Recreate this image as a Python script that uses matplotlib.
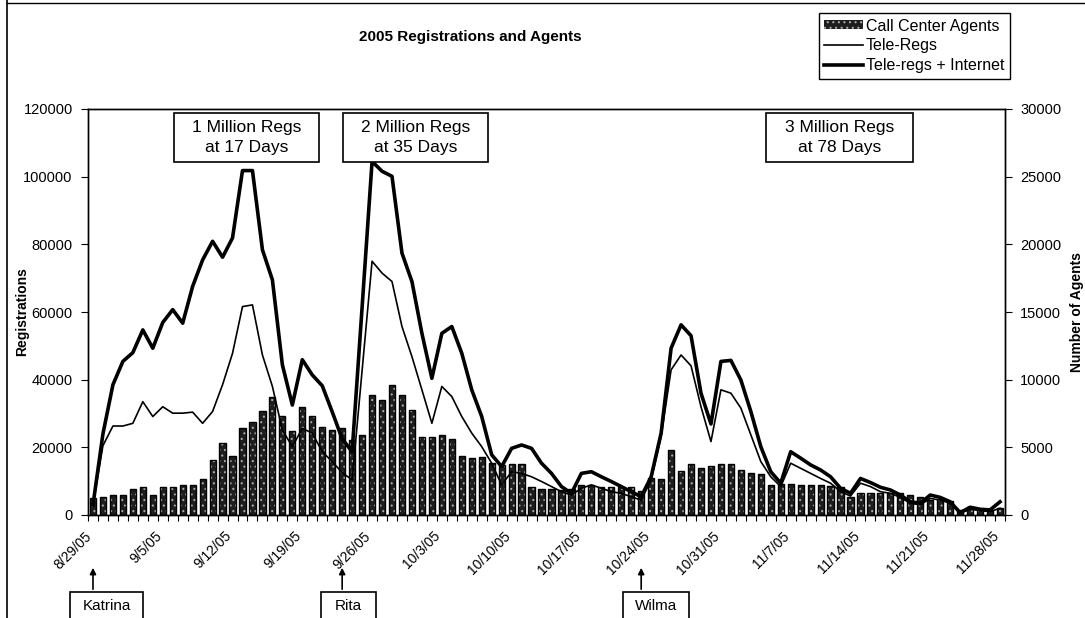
import numpy as np
import pandas as pd
import matplotlib
matplotlib.use("Agg")
import matplotlib.pyplot as plt
from matplotlib.patches import Rectangle, FancyArrowPatch
from matplotlib.lines import Line2D
import matplotlib.transforms as mtransforms

plt.rcParams['font.family'] = ['Liberation Sans', 'DejaVu Sans']
plt.rcParams['hatch.linewidth'] = 0.8

# daily categories 8/29/05 .. 11/28/05
dates = pd.date_range('2005-08-29', '2005-11-28', freq='D')
tick_labels = ['8/29/05', '9/5/05', '9/12/05', '9/19/05', '9/26/05', '10/3/05', '10/10/05',
               '10/17/05', '10/24/05', '10/31/05', '11/7/05', '11/14/05', '11/21/05', '11/28/05']

agents = [1230, 1300, 1500, 1500, 1900, 2050, 1500, 2050, 2050, 2200,
          2250, 2650, 4050, 5300, 4350, 6400, 6900, 7700, 8700, 7300,
          6200, 8000, 7300, 6500, 6300, 6400, 5550, 5900, 8900, 8500,
          9600, 8850, 7750, 5800, 5800, 5900, 5650, 4350, 4200, 4300,
          3850, 3700, 3750, 3750, 2100, 1950, 1950, 1850, 1950, 2200,
          2200, 2050, 2100, 2100, 2050, 1750, 2750, 2650, 4800, 3250,
          3750, 3450, 3650, 3750, 3800, 3300, 3100, 3050, 2200, 2300,
          2300, 2200, 2200, 2200, 2150, 2100, 1350, 1650, 1650, 1650,
          1650, 1650, 1450, 1350, 1100, 1200, 1000, 400, 600, 450,
          350, 500]

tele_regs = [3000, 20500, 26300, 26300, 27100, 33500, 29100, 32000, 30100, 30100,
             30400, 27100, 30600, 38500, 47800, 61600, 62100, 47300, 38000, 25100,
             20200, 25600, 24200, 18700, 15800, 12500, 10400, 42700, 75000, 71500,
             69000, 55700, 46800, 37000, 27100, 38000, 35000, 29100, 24200, 20200,
             15300, 8900, 12800, 12300, 11300, 9900, 8400, 6900, 5900, 7900,
             8900, 7900, 6900, 6400, 5400, 4400, 10400, 23200, 42900, 47300,
             44100, 32000, 21700, 37000, 36000, 31600, 23700, 15800, 11300, 8400,
             15300, 13800, 12300, 10800, 9400, 6900, 5600, 9400, 8400, 6900,
             6400, 5200, 3500, 3000, 4900, 4400, 3500, 500, 1700, 1300,
             1000, 2000]

tele_internet = [3000, 24000, 38500, 45400, 48000, 54700, 49300, 56900, 60700, 56700,
                 67600, 75400, 80900, 76200, 81900, 101800, 101800, 78400, 69500, 44400,
                 32500, 45900, 41400, 38200, 30500, 22500, 18700, 61400, 104500, 101600,
                 100100, 77400, 69000, 53700, 40400, 53700, 55700, 47800, 37000, 29100,
                 17800, 14300, 19700, 20700, 19700, 15300, 12300, 8400, 6400, 12300,
                 12800, 11300, 9900, 8400, 6900, 5400, 11300, 24200, 49300, 56200,
                 53000, 36000, 26900, 45400, 45700, 39900, 30600, 20200, 12800, 9400,
                 18700, 16800, 14800, 13300, 11300, 7900, 6400, 10800, 9600, 8200,
                 7400, 5900, 3900, 3500, 5900, 5200, 3900, 700, 2300, 1700,
                 1500, 3900]

milestones = ['1 Million Regs\nat 17 Days', '2 Million Regs\nat 35 Days', '3 Million Regs\nat 78 Days']
hurricanes = ['Katrina', 'Rita', 'Wilma']
hurricane_dates = ['2005-08-29', '2005-09-23', '2005-10-23']

W, H = 1085, 618
def fx(px):
    return px / W
def fy(py):
    return 1 - py / H

fig = plt.figure(figsize=(W / 100, H / 100), dpi=100)
ax = fig.add_axes([fx(88), fy(515), (1005 - 88) / W, (515 - 109) / H])
ax2 = ax.twinx()

x = np.arange(len(dates))
# agents on the right axis (drawn underneath): speckled fill + black outline
bars = ax.bar(x, agents, width=0.62, color='#1e1e1e', edgecolor='#a8a8a8', linewidth=0,
              hatch='...', label='Call Center Agents')
ax.bar(x, agents, width=0.62, fill=False, edgecolor='black', linewidth=1.0)
ax.set_ylim(0, 30000)
ax.set_xlim(-0.5, len(dates) - 0.5)
ax.set_yticks(np.arange(0, 30001, 5000))
ax.yaxis.tick_right()
ax.yaxis.set_label_position('right')
ax.tick_params(axis='y', direction='out', length=5, labelsize=10.5, pad=6)
ax.set_ylabel('Number of Agents', fontsize=10, fontweight='bold', rotation=90)
ax.yaxis.label.set_va('center')
ax.yaxis.set_label_coords(1.0785, 0.5)

# x ticks between categories, labels weekly
ax.set_xticks(np.arange(-0.5, len(dates), 1))
ax.set_xticklabels([])
ax.tick_params(axis='x', which='major', direction='out', length=4)
label_pos = [dates.get_loc(pd.Timestamp(d)) for d in
             pd.to_datetime(tick_labels, format='%m/%d/%y')]
ax.set_xticks(label_pos, minor=True)
ax.set_xticklabels(tick_labels, minor=True, fontsize=10, rotation=45)
ax.tick_params(axis='x', which='minor', length=0, pad=10)
offset = mtransforms.ScaledTranslation(-6 / 72, 0, fig.dpi_scale_trans)
for lab in ax.get_xticklabels(minor=True):
    lab.set_ha('right')
    lab.set_rotation_mode('anchor')
    lab.set_transform(lab.get_transform() + offset)

# registrations on the left axis
l1, = ax2.plot(x, tele_regs, color='black', lw=1.2, label='Tele-Regs')
l2, = ax2.plot(x, tele_internet, color='black', lw=2.6, label='Tele-regs + Internet')
ax2.set_ylim(0, 120000)
ax2.set_yticks(np.arange(0, 120001, 20000))
ax2.yaxis.tick_left()
ax2.yaxis.set_label_position('left')
ax2.tick_params(axis='y', direction='out', length=5, labelsize=10.5, pad=6)
ax2.set_ylabel('Registrations', fontsize=10, fontweight='bold')
ax2.yaxis.label.set_va('center')
ax2.yaxis.set_label_coords(-0.072, 0.5)
for a in (ax, ax2):
    for s in a.spines.values():
        s.set_linewidth(1.0)

fig.text(fx(470), fy(37), '2005 Registrations and Agents', fontsize=11, fontweight='bold',
         ha='center', va='center')

leg = fig.legend([bars, l1, l2], ['Call Center Agents', 'Tele-Regs', 'Tele-regs + Internet'],
                 loc='upper right', bbox_to_anchor=(fx(1010), fy(13)), fontsize=11.5,
                 frameon=True, fancybox=False, edgecolor='black', framealpha=1,
                 handlelength=2.4, handleheight=0.5, handletextpad=0.2, borderpad=0.35,
                 labelspacing=0.3, borderaxespad=0)
leg.get_frame().set_linewidth(1.0)

# milestone boxes
box_x = [(174, 319), (343, 488), (766, 913)]
for (x0, x1), txt in zip(box_x, milestones):
    fig.add_artist(Rectangle((fx(x0), fy(162)), (x1 - x0) / W, (162 - 113) / H,
                             transform=fig.transFigure, fc='white', ec='black', lw=1.2))
    fig.text(fx((x0 + x1) / 2), fy(137.5), txt, fontsize=12.5, ha='center', va='center',
             linespacing=1.4)

# hurricane markers
label_boxes = [(70, 143), (321, 376), (623, 689)]
for d, (x0, x1), name in zip(hurricane_dates, label_boxes, hurricanes):
    xi = dates.get_loc(pd.Timestamp(d))
    xa = ax.transData.transform((xi, 0))[0] / fig.dpi / fig.get_figwidth()
    fig.add_artist(FancyArrowPatch((xa, fy(592)), (xa, fy(565)), transform=fig.transFigure,
                                   arrowstyle='-|>', mutation_scale=9, color='black', lw=1.2))
    fig.add_artist(Rectangle((fx(x0), fy(625)), (x1 - x0) / W, (625 - 592) / H,
                             transform=fig.transFigure, fc='white', ec='black', lw=1.2))
    fig.text(fx((x0 + x1) / 2), fy(606), name, fontsize=11, ha='center', va='center')

# outer chart border
fig.add_artist(Line2D([fx(7), fx(7)], [0, 1], transform=fig.transFigure, color='black', lw=1.2))
fig.add_artist(Line2D([fx(7), 1], [fy(3), fy(3)], transform=fig.transFigure, color='black', lw=1.0))

fig.savefig('out.png', dpi=100)
